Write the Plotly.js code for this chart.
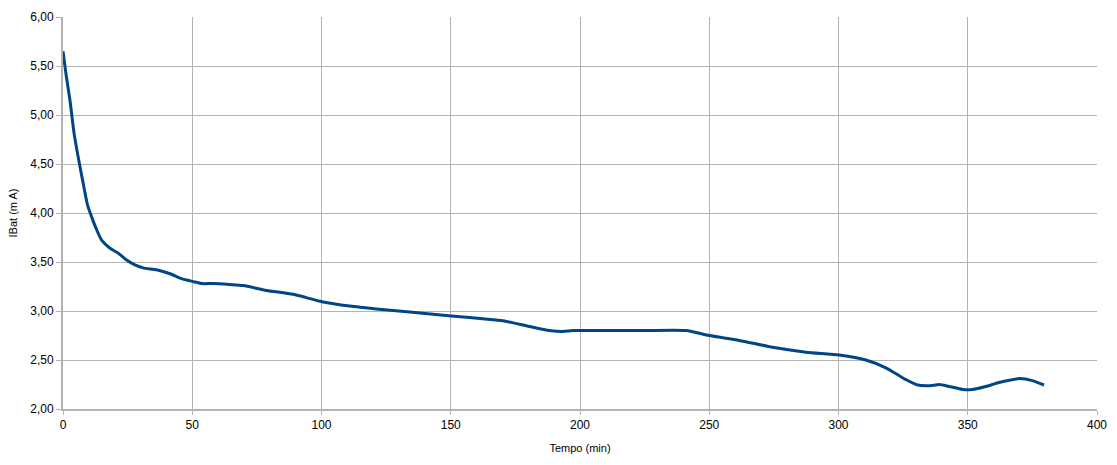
<!DOCTYPE html>
<html>
<head>
<meta charset="utf-8">
<script src="https://cdn.plot.ly/plotly-3.0.1.min.js"></script>
<style>
  html, body { margin: 0; padding: 0; background: #ffffff; }
  #chart { width: 1117px; height: 465px; }
</style>
</head>
<body>
<div id="chart"></div>
<script>
'use strict';

// Values
let tempo = [0, 1.2, 2.7, 4.3, 6.3, 7.9, 9.5, 11.5, 13, 15, 18.2, 21.4, 24.6, 27.8, 31,
    36.2, 41.4, 45.9, 50.4, 53.6, 58.1, 64.5, 69.7, 78.7, 89, 100.2, 110.9, 121.2, 134.1,
    150.2, 162.4, 170.2, 179.2, 188.2, 193.4, 197.2, 210, 225, 241, 250, 261.6, 274.5,
    287.4, 300.3, 310.6, 318.3, 323.5, 326.1, 330.6, 336.4, 339, 342.8, 348, 351.8, 357,
    362.1, 369.9, 375, 379.5];

let ibat = [5.65, 5.41, 5.15, 4.81, 4.51, 4.29, 4.08, 3.93, 3.83, 3.72, 3.64, 3.59, 3.52,
    3.47, 3.44, 3.42, 3.38, 3.33, 3.30, 3.28, 3.28, 3.27, 3.26, 3.21, 3.17, 3.095, 3.05,
    3.02, 2.99, 2.95, 2.92, 2.90, 2.85, 2.80, 2.79, 2.80, 2.80, 2.80, 2.80, 2.75, 2.70,
    2.63, 2.58, 2.55, 2.50, 2.42, 2.34, 2.30, 2.245, 2.24, 2.25, 2.23, 2.20, 2.20, 2.23,
    2.27, 2.31, 2.29, 2.245];

let grid_color = '#b3b3b3';
let font_family = '"Liberation Sans", Arial, sans-serif';

function makeChart() {
    let trace = {
        x: tempo,
        y: ibat,
        type: 'scatter',
        mode: 'lines',
        line: { color: '#004586', width: 3, shape: 'spline', smoothing: 0.6 },
        hoverinfo: 'skip'
    };

    let layout = {
        width: 1117,
        height: 465,
        margin: { l: 63, r: 20, t: 17, b: 56 },
        paper_bgcolor: '#ffffff',
        plot_bgcolor: '#ffffff',
        separators: ',.',
        showlegend: false,
        font: { family: font_family, size: 12, color: '#000000' },

        xaxis: {
            range: [0, 400],
            dtick: 50,
            tick0: 0,
            showgrid: true,
            gridcolor: grid_color,
            gridwidth: 1,
            zeroline: false,
            showline: true,
            linecolor: grid_color,
            linewidth: 2,
            ticks: 'outside',
            ticklen: 4,
            tickcolor: grid_color,
            tickfont: { family: font_family, size: 12, color: '#000000' },
            title: {
                text: 'Tempo (min)',
                font: { family: font_family, size: 11, color: '#000000' },
                standoff: 13
            }
        },

        yaxis: {
            range: [2, 6],
            dtick: 0.5,
            tick0: 2,
            tickformat: '.2f',
            showgrid: true,
            gridcolor: grid_color,
            gridwidth: 1,
            zeroline: false,
            showline: true,
            linecolor: grid_color,
            linewidth: 2,
            ticks: 'outside',
            ticklen: 5,
            tickcolor: grid_color,
            tickfont: { family: font_family, size: 12, color: '#000000' },
            title: {
                text: 'IBat (m A)',
                font: { family: font_family, size: 11, color: '#000000' },
                standoff: 10
            }
        }
    };

    let config = { displayModeBar: false, staticPlot: true };

    Plotly.newPlot('chart', [trace], layout, config);
}

makeChart();
</script>
</body>
</html>
